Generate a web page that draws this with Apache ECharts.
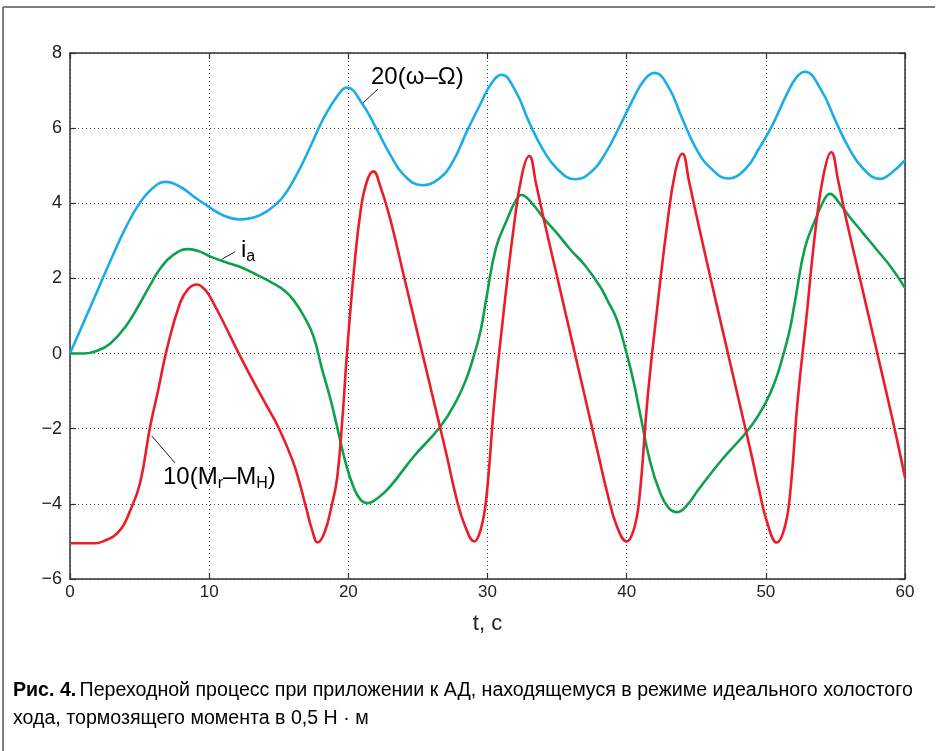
<!DOCTYPE html>
<html>
<head>
<meta charset="utf-8">
<script src="https://cdn.jsdelivr.net/npm/echarts@6/dist/echarts.min.js"></script>
<style>
html,body{margin:0;padding:0;background:#fff;}
#chart{width:939px;height:751px;}
</style>
</head>
<body>
<div id="chart"></div>
<script>
// 20(ω−Ω): sample times (s) and values
var omegaT = [0,1,2,3,4,5,6,6.9,8,9,10,11,12.2,13.2,14.2,15.2,16.2,17.2,18.2,19.2,19.9,21,22,23,24,25.3,26.5,27.5,28.5,29.5,30.3,31,
  32,33,34,35,36.3,37.5,38.5,39.5,40.5,41.3,42,43,44,45,46,47.3,48.5,49.5,50.5,51.5,52.2,52.8,54,55,56,57,58.2,59,60];
var omegaV = [0,0.85,1.7,2.55,3.35,4.0,4.42,4.57,4.42,4.15,3.9,3.68,3.57,3.62,3.8,4.12,4.7,5.45,6.25,6.85,7.08,6.65,6.0,5.3,4.75,4.48,4.65,5.1,5.9,6.65,7.2,7.42,
  7.0,6.15,5.42,4.92,4.64,4.85,5.35,6.05,6.8,7.3,7.47,7.1,6.25,5.45,4.95,4.66,4.9,5.45,6.1,6.9,7.35,7.5,7.0,6.2,5.45,4.92,4.65,4.8,5.15];

// i_a
var currentT = [0,1.0,2.0,2.9,4,5.03,5.8,6.5,7.4,8.5,9.3,10.1,11.2,12.2,13.4,14.6,15.4,16.05,16.8,17.5,18.1,18.7,19.2,19.8,20.36,20.9,21.4,22.1,23.0,24.7,26.6,27.8,28.5,29.0,29.5,29.9,30.6,31.4,32.0,32.45,
  33.2,34.0,35.0,36.0,37.0,38.1,38.6,39.3,40.0,40.5,40.96,41.7,42.4,43.0,43.6,44.3,45.2,46.9,48.8,50.0,50.7,51.2,51.7,52.1,52.8,53.6,54.2,54.6,55.3,56.0,57.0,58.0,59.0,60];
var currentV = [0,0.0,0.08,0.27,0.72,1.34,1.85,2.27,2.62,2.78,2.72,2.58,2.43,2.31,2.1,1.87,1.68,1.43,1.0,0.45,-0.4,-1.19,-1.96,-2.9,-3.54,-3.9,-3.98,-3.85,-3.54,-2.74,-1.95,-1.23,-0.65,-0.08,0.6,1.43,2.8,3.56,4.05,4.22,
  4.0,3.62,3.2,2.75,2.35,1.78,1.43,0.9,0.0,-0.75,-1.59,-2.9,-3.7,-4.1,-4.22,-4.05,-3.6,-2.8,-2.0,-1.3,-0.7,-0.1,0.6,1.4,2.8,3.6,4.1,4.25,4.0,3.65,3.2,2.75,2.3,1.75];

// 10(Mr−MH)
var torqueT = [0,1.5,2.5,3.6,4.3,5.03,5.75,6.35,6.95,7.9,8.5,9.1,9.7,10.3,11.2,12,13,14,15,16,16.5,17,17.4,17.8,18.3,18.8,19.2,19.6,19.9,20.4,20.9,21.35,21.8,
  22.3,23.0,24.0,25.0,26.0,27.0,27.8,28.4,29.05,29.5,29.9,30.5,31.1,31.9,32.5,33.0,
  33.5,34.0,35.0,36.0,37.0,38.0,38.6,39.3,40.0,
  40.5,40.9,41.5,42.1,42.9,43.5,44.0,
  44.5,45.0,46.0,47.0,48.0,49.0,49.5,50.1,50.8,
  51.3,51.7,52.3,52.9,53.6,54.2,54.7,
  55.2,55.7,56.7,57.7,58.7,59.4,60];
var torqueV = [-5.05,-5.05,-4.98,-4.7,-4.2,-3.45,-1.96,-0.95,0.1,1.34,1.72,1.84,1.7,1.35,0.7,0.1,-0.62,-1.3,-1.98,-2.85,-3.45,-4.15,-4.7,-5.03,-4.75,-4.05,-3.3,-1.6,0.0,2.2,3.85,4.6,4.85,
  4.45,3.6,2.05,0.5,-1.05,-2.6,-3.9,-4.6,-5.0,-4.7,-3.9,-1.23,0.9,3.4,4.8,5.26,
  4.5,3.65,2.05,0.45,-1.15,-2.75,-3.7,-4.6,-5.0,
  -4.7,-3.9,-1.2,0.9,3.4,4.85,5.32,
  4.55,3.7,2.05,0.45,-1.15,-2.75,-3.6,-4.5,-5.03,
  -4.7,-3.9,-1.2,0.9,3.4,4.85,5.36,
  4.6,3.7,2.1,0.5,-1.1,-2.25,-3.3];

var xTicks = [0,10,20,30,40,50,60];
var yTicks = [-6,-4,-2,0,2,4,6,8];

function pairs(ts, vs){ return ts.map(function(t,i){ return [t, vs[i]]; }); }

var chart = echarts.init(document.getElementById('chart'), null, {renderer:'canvas'});
var axisColor = '#333';
var gridStyle = {show:true, lineStyle:{color:'#444', width:1, type:[1,3]}};
var font = 'Liberation Sans, Arial, sans-serif';
var tick = {show:true, inside:true, length:6, lineStyle:{color:axisColor, width:1.2}};
var line = {show:true, onZero:false, lineStyle:{color:axisColor, width:1.5}};

var option = {
  animation:false,
  backgroundColor:'#fff',
  grid:{left:70, top:53, width:835, height:526, containLabel:false},
  xAxis:[{
    type:'value', min:xTicks[0], max:xTicks[xTicks.length-1], interval:10, position:'bottom',
    name:'t, c', nameLocation:'middle', nameGap:34,
    nameTextStyle:{fontSize:22, color:'#222', fontFamily:font},
    axisLine:line, axisTick:tick,
    axisLabel:{fontSize:17, color:'#222', margin:5, fontFamily:font},
    splitLine:gridStyle
  },{
    type:'value', min:xTicks[0], max:xTicks[xTicks.length-1], interval:10, position:'top',
    axisLine:line, axisTick:tick,
    axisLabel:{show:false}, splitLine:{show:false}
  }],
  yAxis:[{
    type:'value', min:yTicks[0], max:yTicks[yTicks.length-1], interval:2, position:'left',
    axisLine:line, axisTick:tick,
    axisLabel:{fontSize:18, color:'#222', margin:8, fontFamily:font,
      formatter:function(v){ return v < 0 ? '\u2212' + Math.abs(v) : String(v); }},
    splitLine:gridStyle
  },{
    type:'value', min:yTicks[0], max:yTicks[yTicks.length-1], interval:2, position:'right',
    axisLine:line, axisTick:tick,
    axisLabel:{show:false}, splitLine:{show:false}
  }],
  series:[
    {type:'line', name:'20(ω−Ω)', data:pairs(omegaT, omegaV), smooth:0.45, symbol:'none',
     lineStyle:{color:'#1badea', width:2.6}, z:3},
    {type:'line', name:'i_a', data:pairs(currentT, currentV), smooth:0.45, symbol:'none',
     lineStyle:{color:'#0ea14c', width:2.6}, z:4},
    {type:'line', name:'10(Mr−MH)', data:pairs(torqueT, torqueV), smooth:0.45, symbol:'none',
     lineStyle:{color:'#ec1c2a', width:2.6}, z:5}
  ]
};
chart.setOption(option);

// annotations anchored in data coordinates
function px(t, v){ return chart.convertToPixel({gridIndex:0}, [t, v]); }
var labelColor = '#231f20';
var rich = {
  m:{fontSize:24, lineHeight:28, color:labelColor, fontFamily:font},
  s:{fontSize:16, lineHeight:16, color:labelColor, fontFamily:font, verticalAlign:'bottom'}
};
function leader(a, b){
  var p = px(a[0], a[1]), q = px(b[0], b[1]);
  return {type:'line', shape:{x1:p[0], y1:p[1], x2:q[0], y2:q[1]}, style:{stroke:labelColor, lineWidth:1}, z:10};
}
function label(t, v, txt){
  var p = px(t, v);
  return {type:'text', x:p[0], y:p[1], style:{text:txt, rich:rich, align:'left', verticalAlign:'middle'}, z:10};
}
var capFont = 'Liberation Sans, Arial, sans-serif';
var graphics = [
  leader([21.05, 6.67], [22.13, 7.04]),
  label(21.63, 7.36, '{m|20(ω\u2013Ω)}'),
  leader([10.9, 2.51], [11.86, 2.71]),
  label(12.28, 2.75, '{m|i}{s|a}'),
  leader([5.87, -2.19], [7.54, -2.91]),
  label(6.68, -3.29, '{m|10(M}{s|r}{m|\u2013M}{s|H}{m|)}'),
  // outer frame
  {type:'line', shape:{x1:3, y1:7, x2:935, y2:7}, style:{stroke:'#7f7f7f', lineWidth:2}},
  {type:'line', shape:{x1:3, y1:7, x2:3, y2:751}, style:{stroke:'#7f7f7f', lineWidth:2}},
  // caption
  {type:'text', left:13, top:681, style:{
    text:'{b|Рис. 4.} {r|Переходной процесс при приложении к АД, находящемуся в режиме идеального холостого}\n{r|хода, тормозящего момента в 0,5 Н · м}',
    rich:{
      b:{fontSize:19.6, fontWeight:'bold', fontFamily:capFont, color:'#231f20', lineHeight:28},
      r:{fontSize:19.6, fontFamily:capFont, color:'#231f20', lineHeight:28}
    }
  }}
];
chart.setOption({graphic:graphics});
</script>
</body>
</html>
